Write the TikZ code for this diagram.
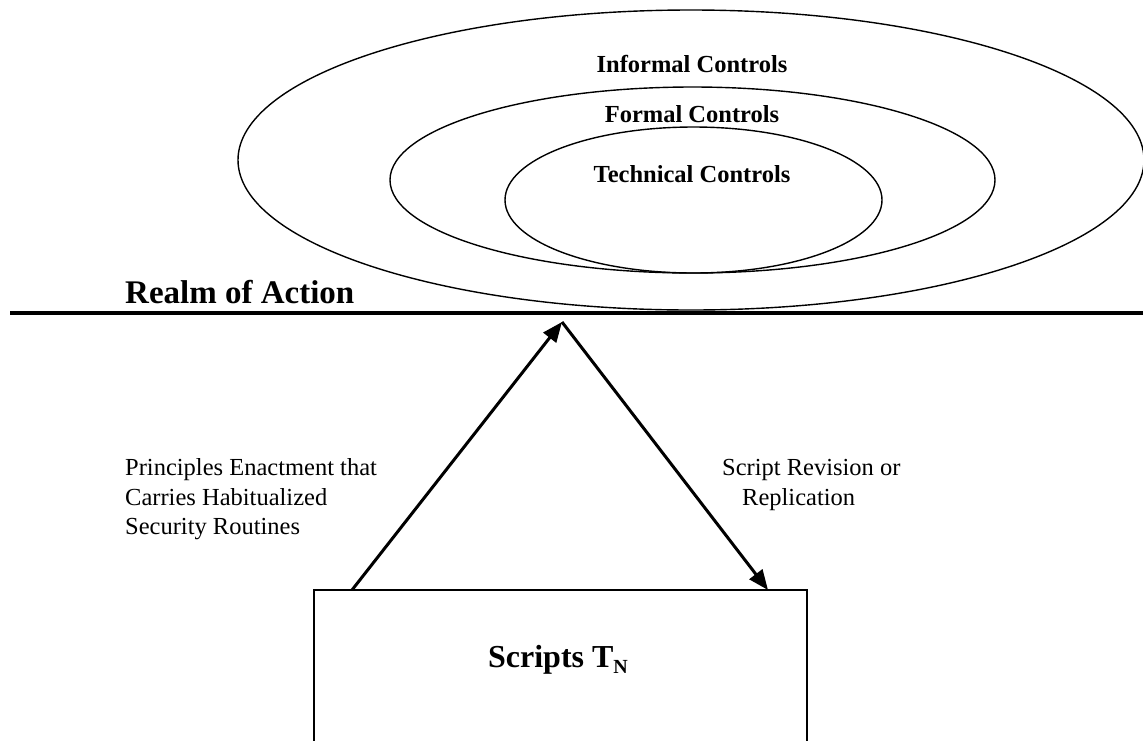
\documentclass[tikz,border=0pt]{standalone}
\usepackage{fontspec}
\setmainfont{Liberation Serif}
\usetikzlibrary{arrows.meta,shapes.geometric}
\begin{document}
\begin{tikzpicture}[x=1pt,y=-1pt,
  ring/.style={draw, ellipse, line width=1.4pt, inner sep=0pt},
  ctl/.style={font=\fontsize{24.5}{29}\selectfont\bfseries, anchor=base, inner sep=0pt},
  note/.style={font=\fontsize{24.5}{29.5}\selectfont, align=left, anchor=north west, inner sep=0pt},
  arr/.style={line width=3pt, -{Triangle[length=20pt,width=16pt]}},
  ]
\useasboundingbox (0,0) rectangle (1143,740);
\clip (0,0) rectangle (1143,740);
\fill[white] (0,0) rectangle (1143,740);
% control rings
\node[ring, minimum width=906pt, minimum height=300pt] (outer) at (691,160) {};
\node[ring, minimum width=605pt, minimum height=186pt] (middle) at (692.5,180) {};
\node[ring, minimum width=377pt, minimum height=146pt] (inner) at (693.5,200) {};
\node[ctl] (informal) at (692,72) {Informal Controls};
\node[ctl] (formal) at (692,122) {Formal Controls};
\node[ctl] (technical) at (692,182) {Technical Controls};
% realm line
\coordinate (hl) at (10,313);
\coordinate (hr) at (1143,313);
\draw[line width=3.5pt] (hl) -- (hr);
\node[font=\fontsize{33}{40}\selectfont\bfseries, anchor=base west, inner sep=0pt] (realm) at (125,303) {Realm of Action};
% scripts box
\node[draw, line width=2pt, minimum width=493pt, minimum height=200pt, inner sep=0pt] (box) at (560.5,690) {};
\node[font=\fontsize{32}{38}\selectfont\bfseries, anchor=base, inner sep=0pt] (scripts) at (558,667) {Scripts T\raisebox{-6pt}{\fontsize{20}{20}\selectfont N}};
% arrows
\coordinate (s1) at (352,590);
\coordinate (apex) at (562,322);
\coordinate (e2) at (768,590);
\draw[arr] (s1) -- (apex);
\draw[arr] (apex) -- (e2);
% labels
\node[note] (left) at (125,458.5) {Principles Enactment that\\Carries Habitualized\\Security Routines};
\node[note] (right) at (722,459.5) {Script Revision or\\\hspace*{20pt}Replication};
\end{tikzpicture}
\end{document}
